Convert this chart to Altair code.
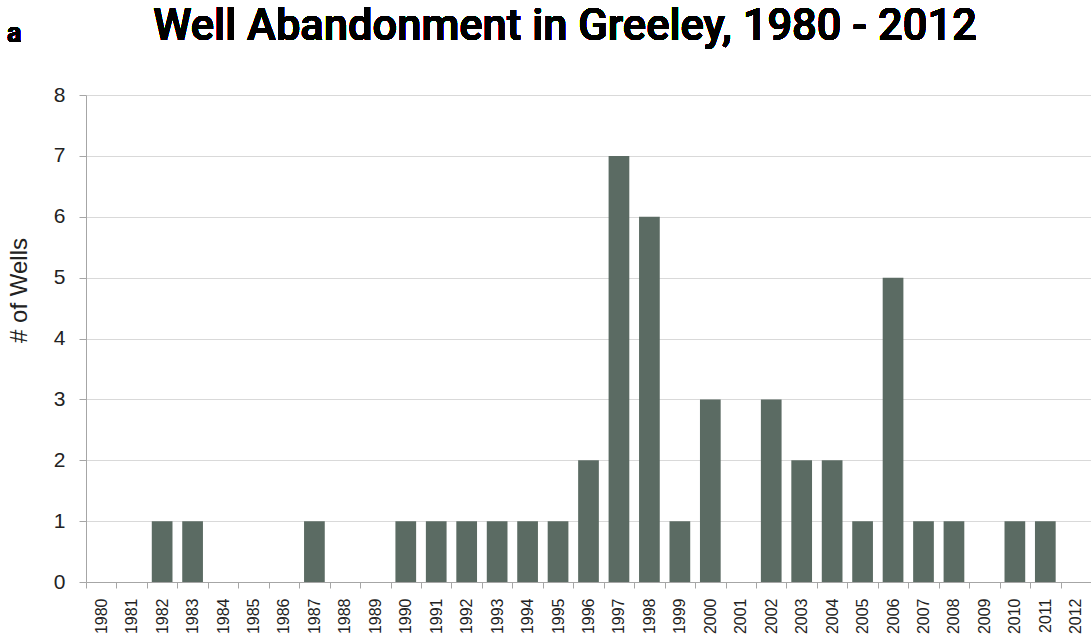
import altair as alt
import pandas as pd

# Wells abandoned per year in Greeley
years = [str(y) for y in range(1980, 2013)]
wells = [0, 0, 1, 1, 0, 0, 0, 1, 0, 0,
         1, 1, 1, 1, 1, 1, 2, 7, 6, 1,
         3, 0, 3, 2, 2, 1, 5, 1, 1, 0,
         1, 1, 0]

title_text = "Well Abandonment in Greeley, 1980 - 2012"
panel_letter = "a"

df = pd.DataFrame({"year": years, "wells": wells})

FONT = "Arial"
TITLE_FONT = "Roboto"
BAR = "#5b6b63"
INK = "#222222"
AXIS_GRAY = "#a6a6a6"

bars = alt.Chart(df).mark_bar(
    color=BAR, width=alt.RelativeBandSize(0.68)
).encode(
    x=alt.X(
        "year:O",
        sort=years,
        scale=alt.Scale(paddingInner=0, paddingOuter=0),
        axis=alt.Axis(
            title=None,
            labelAngle=-90,
            labelFontSize=16,
            labelFont=FONT,
            labelColor=INK,
            labelPadding=10,
            tickBand="extent",
            tickSize=6,
            tickColor=AXIS_GRAY,
            domainColor=AXIS_GRAY,
            grid=False,
        ),
    ),
    y=alt.Y(
        "wells:Q",
        scale=alt.Scale(domain=[0, 8], nice=False),
        axis=alt.Axis(
            title="# of Wells",
            titleFont=FONT,
            titleFontSize=24,
            titleFontWeight="normal",
            titleColor=INK,
            titleX=-67,
            titleY=195,
            titleBaseline="middle",
            values=list(range(0, 9)),
            labelFont=FONT,
            labelFontSize=21,
            labelColor=INK,
            labelPadding=14,
            tickSize=7,
            tickColor=AXIS_GRAY,
            domainColor=AXIS_GRAY,
            gridColor="#d9d9d9",
        ),
    ),
)

# heading and panel letter above the plot area
heading = alt.Chart(df).mark_text(
    text=title_text, font=TITLE_FONT, fontSize=43.5, fontWeight=500, color="#000000",
    align="center", baseline="alphabetic",
).encode(x=alt.value(479), y=alt.value(-55))

letter = alt.Chart(df).mark_text(
    text=panel_letter, font=TITLE_FONT, fontSize=27, fontWeight="bold", color="#000000",
    align="left", baseline="alphabetic",
).encode(x=alt.value(-79), y=alt.value(-53))

chart = alt.layer(bars, heading, letter).properties(
    width=1005,
    height=487,
    autosize=alt.AutoSizeParams(type="none"),
    padding={"left": 86, "top": 95, "right": 0, "bottom": 57},
).configure_view(stroke=None)

chart.save("out.html", embed_options={"renderer": "svg", "actions": False})
